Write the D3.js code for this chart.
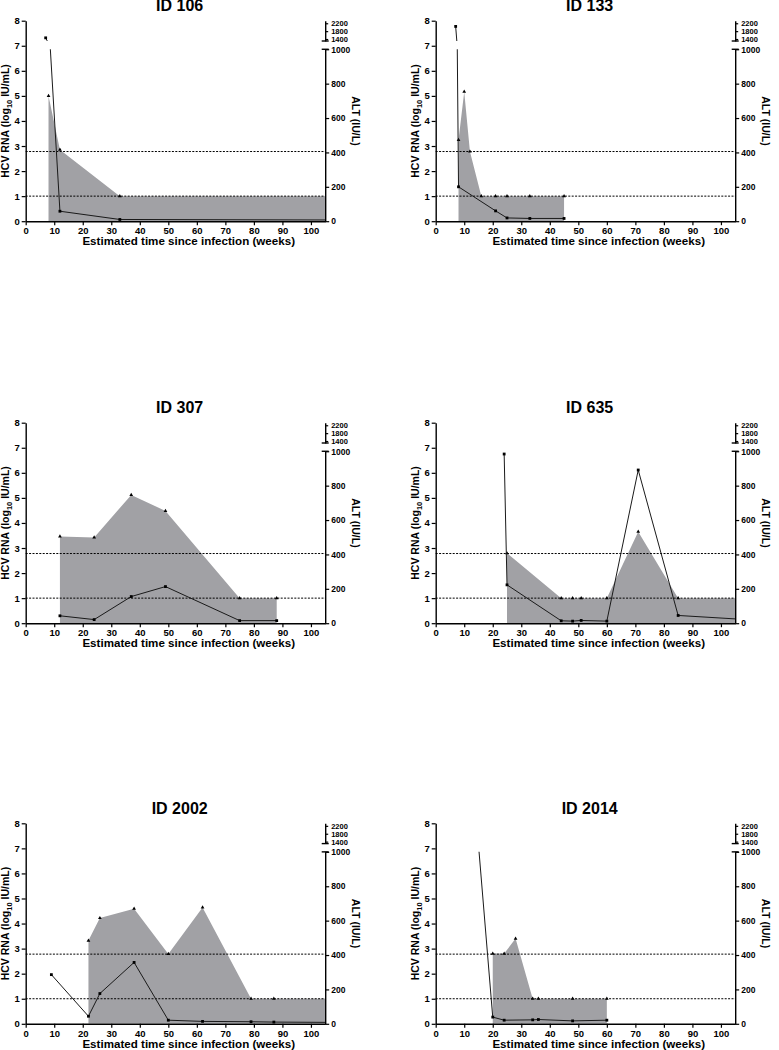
<!DOCTYPE html>
<html>
<head>
<meta charset="utf-8">
<script src="https://cdn.jsdelivr.net/npm/d3@7"></script>
<style>
  body { margin: 0; background: #fff; }
  svg text { font-family: Arial, "Liberation Sans", sans-serif; font-weight: bold; fill: #000; }
</style>
</head>
<body>
<svg id="chart" width="779" height="1050"></svg>
<script>
// panels, read left to right, top to bottom
const panelIds = ['ID 106', 'ID 133', 'ID 307', 'ID 635', 'ID 2002', 'ID 2014'];

// HCV RNA (log10 IU/mL), grey area
const hcvWeeks = [
  [8, 12, 33, 110],
  [8, 10, 12, 16, 21, 25, 33, 45],
  [12, 24, 37, 49, 75, 88],
  [25, 44, 48, 51, 60, 71, 85, 110],
  [22, 26, 38, 50, 62, 79, 87, 110],
  [20, 24, 28, 34, 36, 48, 60]
];
const hcvValues = [
  [5.0, 2.85, 1.0, 1.0],
  [3.24, 5.17, 2.78, 1.0, 1.0, 1.0, 1.0, 1.0],
  [3.46, 3.42, 5.12, 4.48, 1.0, 1.0],
  [2.79, 1.0, 1.0, 1.0, 1.0, 3.65, 1.0, 1.0],
  [3.32, 4.22, 4.59, 2.79, 4.64, 1.0, 1.0, 1.0],
  [2.8, 2.8, 3.4, 1.0, 1.0, 1.0, 1.0]
];

// ALT (IU/L), line
const altWeeks = [
  [7, 12, 33, 110],
  [7, 8, 21, 25, 33, 45],
  [12, 24, 37, 49, 75, 88],
  [24, 25, 44, 48, 51, 60, 71, 85, 110],
  [9, 22, 26, 38, 50, 62, 79, 87, 110],
  [15, 20, 24, 34, 36, 48, 60]
];
const altValues = [
  [1460, 58, 10, 7],
  [2040, 200, 60, 19, 16, 16],
  [43, 21, 155, 213, 15, 15],
  [984, 223, 14, 12, 16, 12, 891, 45, 20],
  [286, 44, 176, 357, 21, 14, 12, 10, 8],
  [1040, 39, 21, 23, 25, 17, 21]
];

const thresholds = [2.78, 1.0];
const xTicks = d3.range(0, 101, 10);
const hcvTicks = d3.range(0, 9);
const altTicksLow = [0, 200, 400, 600, 800, 1000];
const altTicksHigh = [1400, 1800, 2200];

const colLeft = [25.7, 435.7];
const rowTop = [20.7, 422.7, 823.3];
const plotW = 299.5, plotH = 200.5;

const svg = d3.select('#chart');
const defs = svg.append('defs');

function styleAxis(sel, size) {
  sel.selectAll('.domain').attr('stroke', '#000').attr('stroke-width', 1.4);
  sel.selectAll('.tick line').attr('stroke', '#000').attr('stroke-width', 1.2);
  sel.selectAll('.tick text').attr('font-size', size || 9.5).attr('font-family', null);
}

function drawPanel(i) {
  const left = colLeft[i % 2], top = rowTop[Math.floor(i / 2)];
  const g = svg.append('g').attr('transform', `translate(${left},${top})`);

  const x = d3.scaleLinear().domain([0, 105]).range([0, plotW]);
  const y = d3.scaleLinear().domain([0, 8]).range([plotH, 0]);
  // broken right axis: 0-1000 below the gap, 1300-2330 above it
  const altLow = d3.scaleLinear().domain([0, 1000]).range([y(0), y(6.86)]);
  const altHigh = d3.scaleLinear().domain([1300, 2330]).range([y(7.19), y(8)]);

  const hcv = hcvWeeks[i].map((w, k) => ({ w, v: hcvValues[i][k] }));
  const alt = altWeeks[i].map((w, k) => ({ w, v: altValues[i][k] }));

  const clipArea = `clip-area-${i}`, clipLow = `clip-low-${i}`, clipHigh = `clip-high-${i}`;
  defs.append('clipPath').attr('id', clipArea).append('rect')
    .attr('x', 0).attr('y', -5).attr('width', plotW).attr('height', plotH + 5);
  defs.append('clipPath').attr('id', clipLow).append('rect')
    .attr('x', -10).attr('y', altLow(1000)).attr('width', plotW + 10)
    .attr('height', altLow(0) - altLow(1000) + 4);
  defs.append('clipPath').attr('id', clipHigh).append('rect')
    .attr('x', -10).attr('y', -4).attr('width', plotW + 10)
    .attr('height', altHigh(1300) + 4);

  // HCV area
  const areaG = g.append('g').attr('clip-path', `url(#${clipArea})`);
  areaG.append('path')
    .datum(hcv)
    .attr('fill', '#a1a1a5')
    .attr('d', d3.area().x(d => x(d.w)).y0(y(0)).y1(d => y(d.v)));

  // dotted reference lines
  g.selectAll('line.thr')
    .data(thresholds)
    .enter()
    .append('line')
    .attr('x1', 0).attr('x2', plotW)
    .attr('y1', d => y(d)).attr('y2', d => y(d))
    .attr('stroke', '#000').attr('stroke-width', 1)
    .attr('stroke-dasharray', '2,1.4');

  areaG.selectAll('path.hcv-pt')
    .data(hcv)
    .enter()
    .append('path')
    .attr('d', d3.symbol(d3.symbolTriangle, 6))
    .attr('transform', d => `translate(${x(d.w)},${y(d.v)})`)
    .attr('fill', '#000');

  // ALT line, drawn once per axis segment
  [[altLow, clipLow], [altHigh, clipHigh]].forEach(([sc, clip]) => {
    const seg = g.append('g').attr('clip-path', `url(#${clip})`);
    seg.append('path')
      .datum(alt)
      .attr('fill', 'none')
      .attr('stroke', '#1a1a1a')
      .attr('stroke-width', 1)
      .attr('d', d3.line().x(d => x(d.w)).y(d => sc(d.v)));
    seg.selectAll('rect')
      .data(alt)
      .enter()
      .append('rect')
      .attr('x', d => x(d.w) - 1.4).attr('y', d => sc(d.v) - 1.4)
      .attr('width', 2.8).attr('height', 2.8)
      .attr('fill', '#000');
  });

  // axes
  const fmt = d3.format('d');
  const xAxis = g.append('g')
    .attr('transform', `translate(0,${plotH})`)
    .call(d3.axisBottom(x).tickValues(xTicks).tickFormat(fmt).tickSize(4).tickSizeOuter(0).tickPadding(2));
  styleAxis(xAxis);

  const yAxis = g.append('g')
    .call(d3.axisLeft(y).tickValues(hcvTicks).tickFormat(fmt).tickSize(4).tickSizeOuter(0).tickPadding(2));
  styleAxis(yAxis);

  const rLow = g.append('g')
    .attr('transform', `translate(${plotW},0)`)
    .call(d3.axisRight(altLow).tickValues(altTicksLow).tickFormat(fmt).tickSize(4).tickSizeOuter(0).tickPadding(2));
  styleAxis(rLow, 8.5);

  const rHigh = g.append('g')
    .attr('transform', `translate(${plotW},0)`)
    .call(d3.axisRight(altHigh).tickValues(altTicksHigh).tickFormat(fmt).tickSize(3).tickSizeOuter(0).tickPadding(3));
  styleAxis(rHigh, 7.5);

  // caps at the axis break
  [altLow(1000), altHigh(1300)].forEach(cy => {
    g.append('line')
      .attr('x1', plotW - 3.5).attr('x2', plotW + 3.5)
      .attr('y1', cy).attr('y2', cy)
      .attr('stroke', '#000').attr('stroke-width', 1.4);
  });

  // titles
  g.append('text')
    .attr('x', 154).attr('y', -9.5)
    .attr('text-anchor', 'middle')
    .attr('font-size', 16)
    .text(panelIds[i]);

  g.append('text')
    .attr('x', 163).attr('y', plotH + 24)
    .attr('text-anchor', 'middle')
    .attr('font-size', 11.6)
    .text('Estimated time since infection (weeks)');

  const yl = g.append('text')
    .attr('transform', `translate(-16.5,${plotH / 2}) rotate(-90)`)
    .attr('text-anchor', 'middle')
    .attr('font-size', 10.5);
  yl.append('tspan').text('HCV RNA (log');
  yl.append('tspan').attr('font-size', 7.5).attr('dy', 2.5).text('10');
  yl.append('tspan').attr('dy', -2.5).text(' IU/mL)');

  g.append('text')
    .attr('transform', `translate(${plotW + 27},${plotH / 2}) rotate(90)`)
    .attr('text-anchor', 'middle')
    .attr('font-size', 10.5)
    .text('ALT (IU/L)');
}

panelIds.forEach((id, i) => drawPanel(i));
</script>
</body>
</html>
